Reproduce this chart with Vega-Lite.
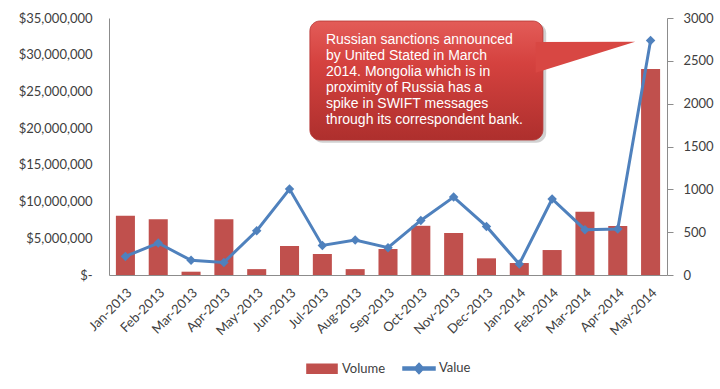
{
  "$schema": "https://vega.github.io/schema/vega-lite/v6.json",
  "width": 558,
  "height": 257,
  "autosize": {"type": "none"},
  "padding": {"left": 109, "top": 18, "right": 53, "bottom": 114},
  "background": "white",
  "config": {
    "view": {"stroke": null},
    "font": "Lato",
    "axis": {"labelFont": "Lato", "labelFontSize": 13, "labelColor": "#404040", "domainColor": "#8c8c8c", "tickColor": "#8c8c8c", "grid": false, "title": null},
    "legend": {"layout": {"bottom": {"anchor": "middle"}}}
  },
  "datasets": {
    "monthly": [
      {"Month": "Jan-2013", "Volume": 8080000, "Value": 217},
      {"Month": "Feb-2013", "Volume": 7600000, "Value": 373},
      {"Month": "Mar-2013", "Volume": 450000, "Value": 171},
      {"Month": "Apr-2013", "Volume": 7600000, "Value": 147},
      {"Month": "May-2013", "Volume": 800000, "Value": 517},
      {"Month": "Jun-2013", "Volume": 3950000, "Value": 1003},
      {"Month": "Jul-2013", "Volume": 2860000, "Value": 345},
      {"Month": "Aug-2013", "Volume": 800000, "Value": 408},
      {"Month": "Sep-2013", "Volume": 3540000, "Value": 319},
      {"Month": "Oct-2013", "Volume": 6700000, "Value": 637},
      {"Month": "Nov-2013", "Volume": 5720000, "Value": 910},
      {"Month": "Dec-2013", "Volume": 2270000, "Value": 567},
      {"Month": "Jan-2014", "Volume": 1630000, "Value": 128},
      {"Month": "Feb-2014", "Volume": 3400000, "Value": 887},
      {"Month": "Mar-2014", "Volume": 8620000, "Value": 529},
      {"Month": "Apr-2014", "Volume": 6670000, "Value": 537},
      {"Month": "May-2014", "Volume": 28050000, "Value": 2738}
    ],
    "box": [
      {"kind": "shadow", "ax": 6.2, "ax2": 13.32, "ay": 34.3, "ay2": 18.0},
      {"kind": "box", "ax": 6.12, "ax2": 13.22, "ay": 34.59, "ay2": 18.38}
    ],
    "pointer": [
      {"ax": 13.0, "ay": 31.73, "ay2": 27.53},
      {"ax": 16.03, "ay": 31.77, "ay2": 31.77}
    ],
    "callout": [
      {"ax": 6.61, "ay": 32.0, "label": ["Russian sanctions announced", "by United Stated in March", "2014. Mongolia which is in", "proximity of Russia has a", "spike in SWIFT  messages", "through its correspondent bank."]}
    ]
  },
  "layer": [
    {
      "data": {"name": "monthly"},
      "layer": [
        {
          "mark": {"type": "bar"},
          "encoding": {
            "x": {"field": "Month", "type": "nominal", "sort": null, "scale": {"paddingInner": 0.42, "paddingOuter": 0.21},
                  "axis": {"labelAngle": -45, "ticks": false, "labelPadding": 11}},
            "y": {"field": "Volume", "type": "quantitative", "scale": {"domain": [0, 35000000], "nice": false},
                  "axis": {"orient": "left", "values": [0, 5000000, 10000000, 15000000, 20000000, 25000000, 30000000, 35000000], "ticks": false, "labelPadding": 17,
                           "labelExpr": "datum.value === 0 ? '$-' : '$' + format(datum.value, ',')"}},
            "color": {"datum": "Volume", "type": "nominal", "scale": {"domain": ["Volume", "Value"], "range": ["#c0504d", "#4f81bd"]},
                      "legend": {"title": null, "orient": "bottom", "direction": "horizontal", "offset": 13, "labelFontSize": 13, "labelColor": "#404040", "symbolSize": 1024, "columnPadding": 14, "labelOffset": 3,
                                 "encode": {"symbols": {"update": {
                                   "shape": {"signal": "datum.value === 'Volume' ? 'M-0.94,-0.28H0.94V0.28H-0.94Z' : 'M-1,-0.09H1V0.09H-1Z M0,-0.32L0.3,0L0,0.32L-0.3,0Z'"},
                                   "fill": {"scale": "color", "field": "value"},
                                   "stroke": {"value": "transparent"},
                                   "opacity": {"value": 1}}}}}}
          }
        },
        {
          "mark": {"type": "line", "strokeWidth": 3, "point": {"shape": "diamond", "size": 90, "filled": true}},
          "encoding": {
            "x": {"field": "Month", "type": "nominal", "sort": null},
            "y": {"field": "Value", "type": "quantitative", "scale": {"domain": [0, 3000], "nice": false},
                  "axis": {"orient": "right", "values": [0, 500, 1000, 1500, 2000, 2500, 3000], "format": "d", "ticks": true, "tickSize": 6, "labelPadding": 10}},
            "color": {"datum": "Value", "type": "nominal"}
          }
        }
      ],
      "resolve": {"scale": {"y": "independent"}}
    },
    {
      "layer": [
        {
          "data": {"name": "box"},
          "transform": [{"filter": "datum.kind === 'shadow'"}],
          "mark": {"type": "rect", "cornerRadius": 10, "fill": "#7a7a7a", "opacity": 0.35},
          "encoding": {
            "x": {"field": "ax", "type": "quantitative", "scale": {"domain": [0, 17], "nice": false, "zero": false}, "axis": null},
            "x2": {"field": "ax2"},
            "y": {"field": "ay", "type": "quantitative", "scale": {"domain": [0, 35], "nice": false}, "axis": null},
            "y2": {"field": "ay2"}
          }
        },
        {
          "data": {"name": "box"},
          "transform": [{"filter": "datum.kind === 'box'"}],
          "mark": {"type": "rect", "cornerRadius": 10, "stroke": "#b53533", "strokeWidth": 0.8,
                   "fill": {"gradient": "linear", "x1": 0, "y1": 0, "x2": 0, "y2": 1,
                            "stops": [{"offset": 0, "color": "#e35c58"}, {"offset": 0.35, "color": "#d5423f"}, {"offset": 1, "color": "#ae2f2d"}]}},
          "encoding": {
            "x": {"field": "ax", "type": "quantitative"},
            "x2": {"field": "ax2"},
            "y": {"field": "ay", "type": "quantitative"},
            "y2": {"field": "ay2"}
          }
        },
        {
          "data": {"name": "pointer"},
          "mark": {"type": "area", "fill": "#d84743", "orient": "vertical"},
          "encoding": {
            "x": {"field": "ax", "type": "quantitative"},
            "y": {"field": "ay", "type": "quantitative"},
            "y2": {"field": "ay2"}
          }
        },
        {
          "data": {"name": "callout"},
          "mark": {"type": "text", "font": "Liberation Sans", "fontSize": 14, "color": "white", "align": "left", "baseline": "middle", "lineHeight": 16},
          "encoding": {
            "x": {"field": "ax", "type": "quantitative"},
            "y": {"field": "ay", "type": "quantitative"},
            "text": {"field": "label"}
          }
        }
      ]
    }
  ],
  "resolve": {"scale": {"x": "independent", "y": "independent"}}
}
